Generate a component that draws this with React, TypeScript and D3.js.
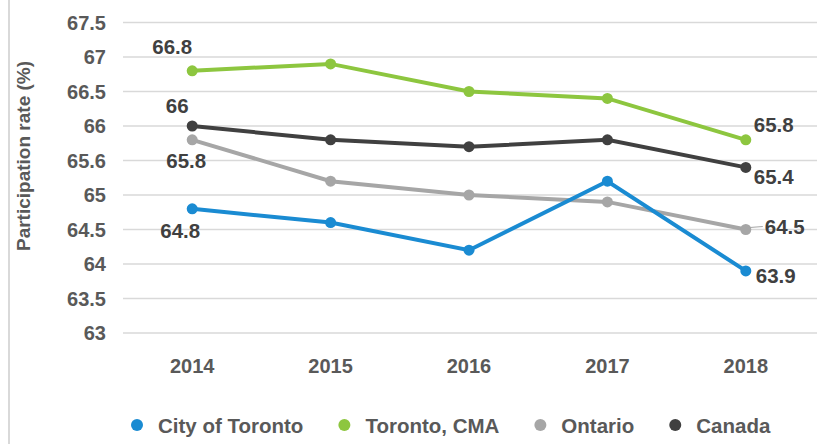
import React, { useEffect, useRef } from "react";
import * as d3 from "d3";

const years = ["2014", "2015", "2016", "2017", "2018"];
const seriesNames = ["City of Toronto", "Toronto, CMA", "Ontario", "Canada"];
const cityOfToronto = [64.8, 64.6, 64.2, 65.2, 63.9];
const torontoCMA = [66.8, 66.9, 66.5, 66.4, 65.8];
const ontario = [65.8, 65.2, 65.0, 64.9, 64.5];
const canada = [66.0, 65.8, 65.7, 65.8, 65.4];
const yTickValues = [63, 63.5, 64, 64.5, 65, 65.5, 66, 66.5, 67, 67.5];
const yTickLabels = ["63", "63.5", "64", "64.5", "65", "65.6", "66", "66.5", "67", "67.5"];
const colors = ["#1A8BD2", "#8DC63F", "#A6A6A6", "#404040"];

// label placement: [seriesIndex, pointIndex, dx, dy, anchor]
const labelLayout: [number, number, number, number, string][] = [
  [1, 0, -20, -17, "middle"],
  [3, 0, -15, -13, "middle"],
  [2, 0, -6, 28, "middle"],
  [0, 0, -12, 29, "middle"],
  [1, 4, 8, -8, "start"],
  [3, 4, 8, 17, "start"],
  [2, 4, 19, 4, "start"],
  [0, 4, 10, 12, "start"],
];

export default function App() {
  const ref = useRef<SVGSVGElement>(null);
  useEffect(() => {
    const svg = d3.select(ref.current);
    svg.selectAll("*").remove();
    const W = 817, H = 444;
    const font = "'Liberation Sans', Arial, sans-serif";
    const textColor = "#595959";
    const all = [cityOfToronto, torontoCMA, ontario, canada];

    const x = d3.scaleBand<string>().domain(years).range([123, 815]);
    const y = d3.scaleLinear().domain([63, 67.5]).range([333, 22.5]);
    const cx = (yr: string) => (x(yr) as number) + x.bandwidth() / 2;

    svg.append("rect").attr("width", W).attr("height", H).attr("fill", "#fff");
    svg.append("line").attr("x1", 9).attr("x2", 9).attr("y1", 0).attr("y2", H)
      .attr("stroke", "#d9d9d9").attr("stroke-width", 2);

    // grid
    svg.append("g").selectAll("line").data(yTickValues).join("line")
      .attr("x1", 123).attr("x2", W).attr("y1", d => y(d)).attr("y2", d => y(d))
      .attr("stroke", "#d9d9d9").attr("stroke-width", 1.5);

    // y tick labels
    svg.append("g").selectAll("text").data(yTickValues).join("text")
      .attr("x", 106).attr("y", d => y(d)).attr("dy", "0.36em")
      .attr("text-anchor", "end").attr("font-family", font).attr("font-weight", "bold")
      .attr("font-size", 20).attr("fill", textColor)
      .text((d, i) => yTickLabels[i]);

    // x labels
    svg.append("g").selectAll("text").data(years).join("text")
      .attr("x", d => cx(d)).attr("y", 373).attr("text-anchor", "middle")
      .attr("font-family", font).attr("font-weight", "bold").attr("font-size", 20)
      .attr("fill", textColor).text(d => d);

    // axis title
    svg.append("text").attr("transform", "translate(30,156) rotate(-90)")
      .attr("text-anchor", "middle").attr("font-family", font).attr("font-weight", "bold")
      .attr("font-size", 19).attr("fill", textColor).text("Participation rate (%)");

    const line = d3.line<number>().x((d, i) => cx(years[i])).y(d => y(d));
    const order = [2, 3, 1, 0];
    order.forEach(si => {
      const g = svg.append("g");
      g.append("path").attr("d", line(all[si]) as string).attr("fill", "none")
        .attr("stroke", colors[si]).attr("stroke-width", 4);
      g.selectAll("circle").data(all[si]).join("circle")
        .attr("cx", (d, i) => cx(years[i])).attr("cy", d => y(d)).attr("r", 5.5)
        .attr("fill", colors[si]);
    });

    // leader line for Ontario 2018
    svg.append("line")
      .attr("x1", cx(years[4]) + 4).attr("x2", cx(years[4]) + 17)
      .attr("y1", y(ontario[4]) - 2).attr("y2", y(ontario[4]) - 3)
      .attr("stroke", "#A6A6A6").attr("stroke-width", 1.2);

    // data labels
    svg.append("g").selectAll("text").data(labelLayout).join("text")
      .attr("x", d => cx(years[d[1]]) + d[2])
      .attr("y", d => y(all[d[0]][d[1]]) + d[3])
      .attr("text-anchor", d => d[4])
      .attr("font-family", font).attr("font-weight", "bold").attr("font-size", 20.5)
      .attr("fill", "#404040")
      .text(d => String(all[d[0]][d[1]]));

    // legend
    const lg = svg.append("g");
    let lx = 158;
    seriesNames.forEach((name, i) => {
      lg.append("circle").attr("cx", lx - 21).attr("cy", 425).attr("r", 6).attr("fill", colors[i]);
      const t = lg.append("text").attr("x", lx).attr("y", 433)
        .attr("font-family", font).attr("font-weight", "bold").attr("font-size", 20.5)
        .attr("fill", textColor).text(name);
      const w = (t.node() as SVGTextElement).getComputedTextLength();
      lx += w + 62;
    });
  }, []);
  return (
    <svg ref={ref} width={817} height={444}
      style={{ position: "absolute", left: 0, top: 0, display: "block" }} />
  );
}
